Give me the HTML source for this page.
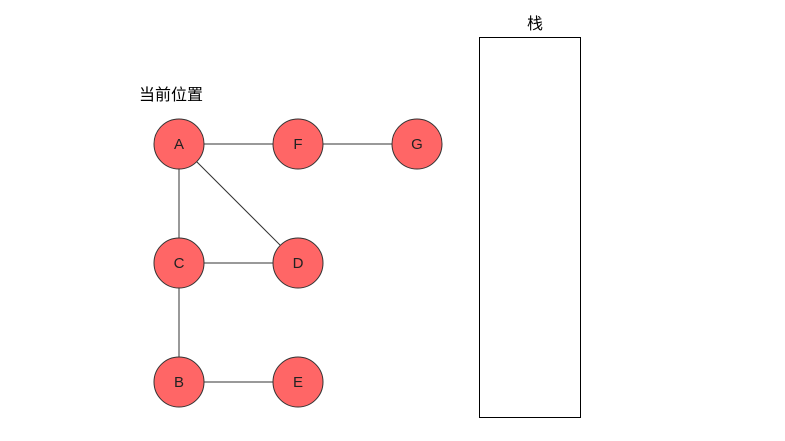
<!DOCTYPE html>
<html><head><meta charset="utf-8"><style>body{margin:0;background:#fff}</style></head><body>
<svg width="785" height="441" xmlns="http://www.w3.org/2000/svg" style="display:block">
<g stroke="#333" stroke-width="1" fill="none">
<line x1="179" y1="144" x2="298" y2="144"/>
<line x1="298" y1="144" x2="417" y2="144"/>
<line x1="179" y1="144" x2="179" y2="263"/>
<line x1="179" y1="144" x2="298" y2="263"/>
<line x1="179" y1="263" x2="298" y2="263"/>
<line x1="179" y1="263" x2="179" y2="382"/>
<line x1="179" y1="382" x2="298" y2="382"/>
<rect x="479.5" y="37.5" width="101" height="380" stroke="#000"/>
</g>
<g fill="#FF6666" stroke="#333" stroke-width="1">
<circle cx="179" cy="144" r="25"/><circle cx="298" cy="144" r="25"/><circle cx="417" cy="144" r="25"/>
<circle cx="179" cy="263" r="25"/><circle cx="298" cy="263" r="25"/>
<circle cx="179" cy="382" r="25"/><circle cx="298" cy="382" r="25"/>
</g>
<g font-family="Liberation Sans, sans-serif" font-size="15" fill="#222" text-anchor="middle">
<text x="179" y="149">A</text><text x="298" y="149">F</text><text x="417" y="149">G</text>
<text x="179" y="268">C</text><text x="298" y="268">D</text>
<text x="179" y="387">B</text><text x="298" y="387">E</text>
</g>
<g font-family="Liberation Sans, Noto Sans CJK SC, sans-serif" font-size="16" fill="#000">
<text x="139" y="100">当前位置</text>
<text x="535" y="29" text-anchor="middle">栈</text>
</g>
</svg>
</body></html>
